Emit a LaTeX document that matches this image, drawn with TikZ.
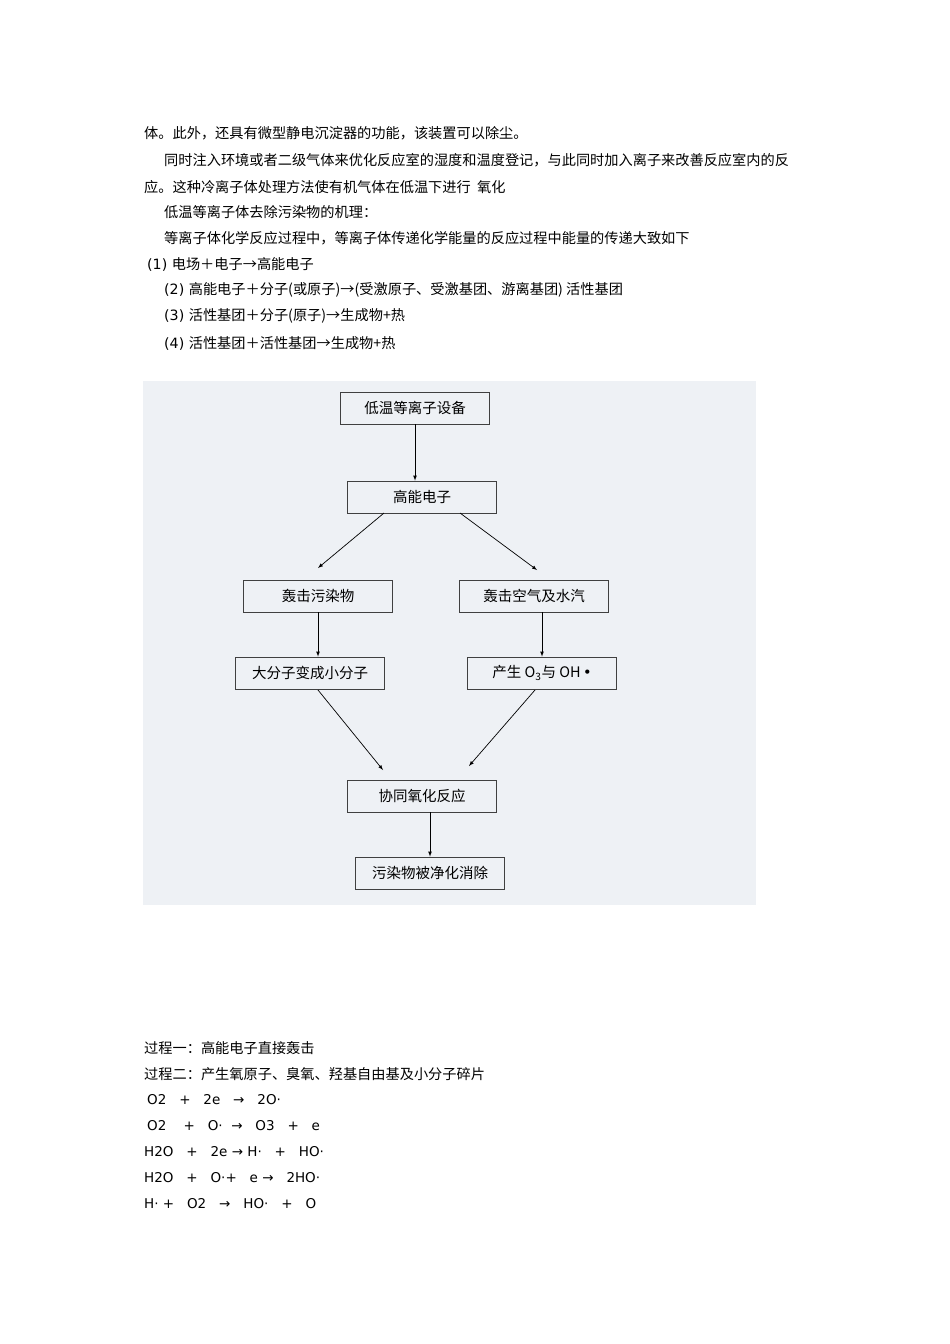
\documentclass[tikz,border=0pt]{standalone}
\usepackage{fontspec}
\setmainfont{DejaVu Sans}
\newfontfamily\cjk{Noto Sans CJK SC}
\begin{document}
\begin{tikzpicture}[x=1pt,y=-1pt,
  txt/.style={anchor=west,inner sep=0pt,font=\cjk\fontsize{14.2}{15}\selectfont},
  eq/.style={anchor=west,inner sep=0pt,font=\fontsize{13.5}{15}\selectfont},
  bx/.style={draw=black!75,line width=0.8pt,minimum width=149pt,minimum height=32pt,inner sep=0pt,font=\cjk\fontsize{14.5}{15}\selectfont},
  arr/.style={-latex,line width=0.7pt}]
\useasboundingbox (0,0) rectangle (950,1344);
\node[txt] (t1) at (144,133) {体。此外，还具有微型静电沉淀器的功能，该装置可以除尘。};
\node[txt] (t2) at (164,160) {同时注入环境或者二级气体来优化反应室的湿度和温度登记，与此同时加入离子来改善反应室内的反};
\node[txt] (t3) at (144,187) {应。这种冷离子体处理方法使有机气体在低温下进行\ \ 氧化};
\node[txt] (t4) at (164,212) {低温等离子体去除污染物的机理：};
\node[txt] (t5) at (164,238) {等离子体化学反应过程中，等离子体传递化学能量的反应过程中能量的传递大致如下};
\node[txt] (t6) at (147,264) {\fontspec{DejaVu Sans}(1) \cjk 电场＋电子→高能电子};
\node[txt] (t7) at (164,290) {\fontspec{DejaVu Sans}(2) \cjk 高能电子＋分子(或原子)→(受激原子、受激基团、游离基团) 活性基团};
\node[txt] (t8) at (164,316) {\fontspec{DejaVu Sans}(3) \cjk 活性基团＋分子(原子)→生成物+热};
\node[txt] (t9) at (164,343) {\fontspec{DejaVu Sans}(4) \cjk 活性基团＋活性基团→生成物+热};
\fill[fill={rgb,255:red,238;green,241;blue,245}] (143,381) rectangle (756,905);
\node[bx] (a) at (415,408) {低温等离子设备};
\node[bx] (b) at (422,497) {高能电子};
\node[bx] (c) at (318,596) {轰击污染物};
\node[bx] (d) at (534,596) {轰击空气及水汽};
\node[bx] (e) at (310,673) {大分子变成小分子};
\node[bx] (f) at (542,673) {产生 O\textsubscript{3}与 OH\,\fontspec{DejaVu Sans}•};
\node[bx] (g) at (422,796) {协同氧化反应};
\node[bx] (h) at (430,873) {污染物被净化消除};
\coordinate (bl) at (384,513);
\coordinate (br) at (460,513);
\coordinate (cl) at (318,568);
\coordinate (dr) at (537,570);
\coordinate (el) at (318,690);
\coordinate (gl) at (383,770);
\coordinate (fr) at (535,690);
\coordinate (gr) at (469,766);
\draw[arr] (a.south) -- (a.south |- b.north);
\draw[arr] (bl) -- (cl);
\draw[arr] (br) -- (dr);
\draw[arr] (c.south) -- (c.south |- e.north);
\draw[arr] (d.south -| f) -- (f.north);
\draw[arr] (el) -- (gl);
\draw[arr] (fr) -- (gr);
\draw[arr] (g.south -| h) -- (h.north);
\node[txt] (u1) at (144,1048) {过程一：高能电子直接轰击};
\node[txt] (u2) at (144,1074) {过程二：产生氧原子、臭氧、羟基自由基及小分子碎片};
\node[eq] (u3) at (147,1100) {O2\ \ \ +\ \ \ 2e\ \ \ →\ \ \ 2O·};
\node[eq] (u4) at (147,1126) {O2\ \ \ \ +\ \ \ O·\ \ →\ \ \ O3\ \ \ +\ \ \ e};
\node[eq] (u5) at (144,1152) {H2O\ \ \ +\ \ \ 2e → H·\ \ \ +\ \ \ HO·};
\node[eq] (u6) at (144,1178) {H2O\ \ \ +\ \ \ O·+\ \ \ e →\ \ \ 2HO·};
\node[eq] (u7) at (144,1204) {H·\ +\ \ \ O2\ \ \ →\ \ \ HO·\ \ \ +\ \ \ O};
\end{tikzpicture}
\end{document}
